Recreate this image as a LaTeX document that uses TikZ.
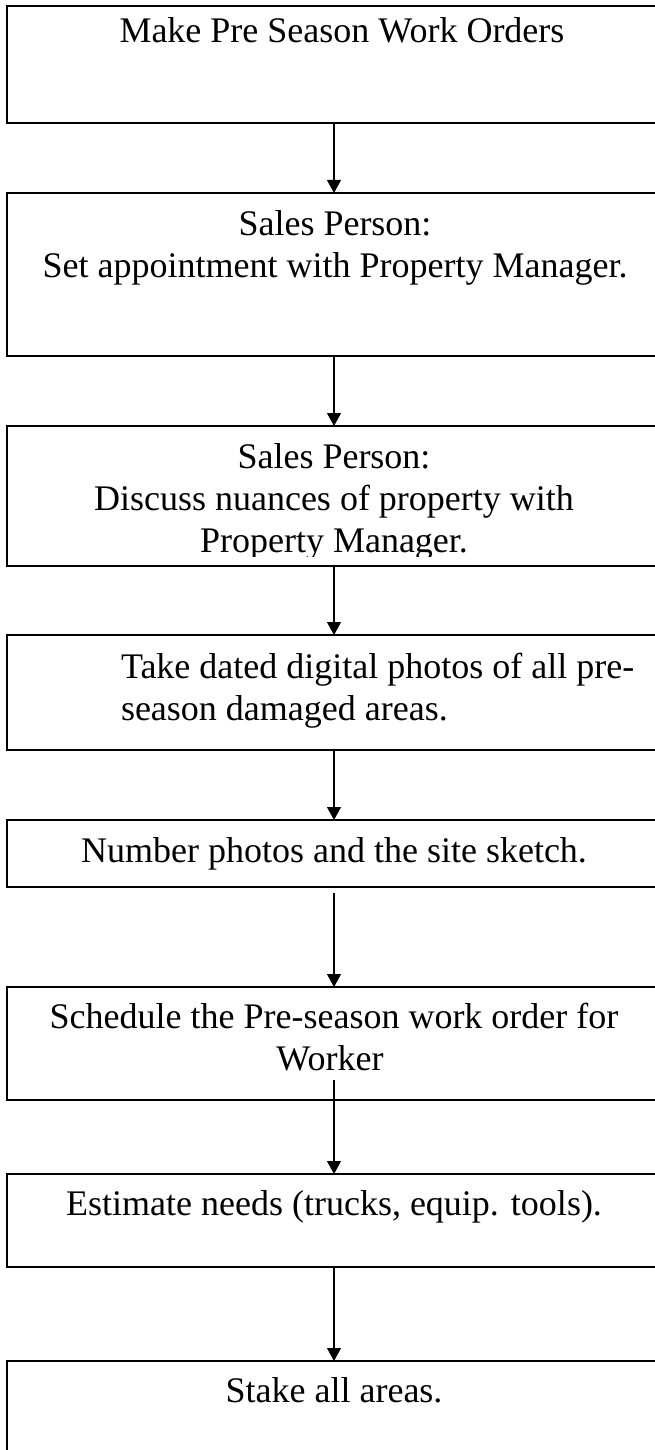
\documentclass[tikz,border=0pt]{standalone}
\usepackage{fontspec}
\setmainfont{Liberation Serif}
\usetikzlibrary{arrows.meta}
\begin{document}
\begin{tikzpicture}[x=1pt,y=-1pt,
  box/.style={draw=black,line width=2pt,rectangle,inner sep=0pt,outer sep=0pt,minimum width=654pt},
  lbl/.style={anchor=base,inner sep=0pt,outer sep=0pt,font=\fontsize{36}{42}\selectfont},
  lbll/.style={lbl,anchor=base west},
  flow/.style={draw=black,line width=1.1pt,-{Triangle[width=14pt,length=13pt]}}]
\useasboundingbox (0,0) rectangle (655,1450);
\fill[white] (0,0) rectangle (655,1450);
% boxes
\node[box,minimum height=117pt] (b1) at (334,64.5) {};
\node[box,minimum height=163pt] (b2) at (334,274.5) {};
\node[box,minimum height=140pt] (b3) at (334,496) {};
\node[box,minimum height=115pt] (b4) at (334,692.5) {};
\node[box,minimum height=67pt]  (b5) at (334,853.5) {};
\node[box,minimum height=113pt] (b6) at (334,1043.5) {};
\node[box,minimum height=93pt]  (b7) at (334,1220.5) {};
\node[box,minimum height=119pt] (b8) at (334,1420.5) {};
% texts
\node[lbl] (t1) at (342,43) {Make Pre Season Work Orders};
\node[lbl] (t2a) at (335,235) {Sales Person:};
\node[lbl] (t2b) at (335,277) {Set appointment with Property Manager.};
\begin{scope}
\clip (0,427) rectangle (661,556);
\node[lbl] (t3a) at (334,468) {Sales Person:};
\node[lbl] (t3b) at (334,510) {Discuss nuances of property with};
\node[lbl] (t3c) at (334,552) {Property Manager.};
\end{scope}
\node[lbll] (t4a) at (121,678) {Take dated digital photos of all pre-};
\node[lbll] (t4b) at (121,720) {season damaged areas.};
\node[lbl] (t5) at (334,862) {Number photos and the site sketch.};
\node[lbl] (t6a) at (334,1028) {Schedule the Pre-season work order for};
\node[lbl] (t6b) at (330,1070) {Worker};
\node[lbl] (t7) at (334,1215) {Estimate needs (trucks, equip. tools).};
\node[lbl] (t8) at (334,1402) {Stake all areas.};
% connectors
\draw[flow] (b1.south) -- (b2.north);
\draw[flow] (b2.south) -- (b3.north);
\draw[flow] (b3.south) -- (b4.north);
\draw[flow] (b4.south) -- (b5.north);
\draw[flow] ([yshift=-6pt]b5.south) -- (b6.north);
\draw[flow] ([yshift=20pt]b6.south) -- (b7.north);
\draw[flow] (b7.south) -- (b8.north);
\end{tikzpicture}
\end{document}
